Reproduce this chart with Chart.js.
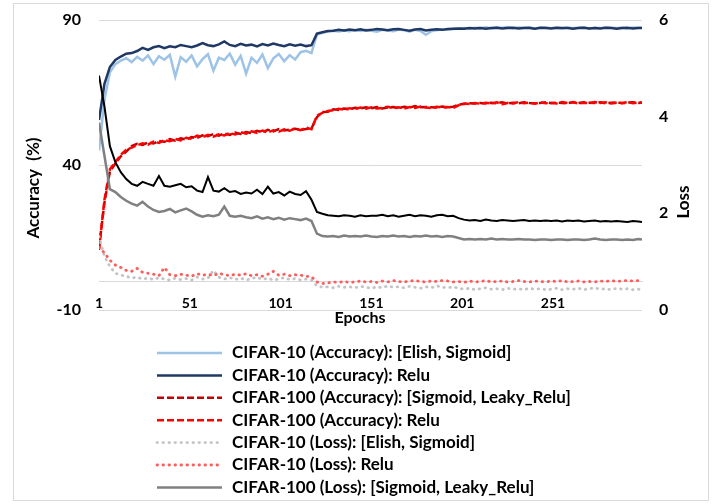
<!DOCTYPE html>
<html>
<head>
<meta charset="utf-8">
<title>CIFAR accuracy / loss</title>
<script src="https://cdn.jsdelivr.net/npm/chart.js@4"></script>
<style>
  body { margin: 0; background: #fff; }
</style>
</head>
<body>
<canvas id="chart" width="728" height="504"></canvas>
<script>
// epochs (every 3rd epoch, plus the last one)
var epochs = [1, 4, 7, 10, 13, 16, 19, 22, 25, 28,
  31, 34, 37, 40, 43, 46, 49, 52, 55, 58,
  61, 64, 67, 70, 73, 76, 79, 82, 85, 88,
  91, 94, 97, 100, 103, 106, 109, 112, 115, 118,
  121, 124, 127, 130, 133, 136, 139, 142, 145, 148,
  151, 154, 157, 160, 163, 166, 169, 172, 175, 178,
  181, 184, 187, 190, 193, 196, 199, 202, 205, 208,
  211, 214, 217, 220, 223, 226, 229, 232, 235, 238,
  241, 244, 247, 250, 253, 256, 259, 262, 265, 268,
  271, 274, 277, 280, 283, 286, 289, 292, 295, 298,
  300];

// accuracy (%)
var c10AccElish = [45.0, 62.5, 72.0, 74.8, 76.0, 76.8, 75.5, 77.3, 76.0, 77.8,
  74.8, 77.5, 76.3, 78.0, 70.5, 77.2, 75.6, 77.8, 74.0, 76.5,
  78.2, 72.5, 77.0, 76.2, 78.4, 74.6, 77.6, 71.5, 77.0, 75.2,
  78.1, 73.4, 76.8, 78.3, 75.8, 77.9, 76.4, 78.9, 79.4, 78.6,
  85.0, 85.6, 86.0, 86.3, 86.0, 86.4, 86.1, 86.5, 86.2, 86.6,
  86.3, 86.0, 86.6, 86.4, 86.1, 86.7, 86.5, 86.0, 86.6, 86.2,
  84.9, 86.1, 86.5, 86.8, 86.6, 86.9, 87.0, 87.2, 87.0, 87.3,
  87.2, 87.5, 87.1, 87.4, 87.3, 87.6, 87.2, 87.4, 87.3, 87.5,
  87.1, 87.3, 87.4, 87.2, 87.3, 87.1, 87.4, 87.2, 87.3, 87.4,
  87.1, 87.3, 87.2, 87.4, 87.3, 87.2, 87.3, 87.1, 87.4, 87.3,
  87.3];
var c10AccRelu = [55.5, 68.0, 73.8, 76.2, 77.4, 78.4, 78.6, 79.3, 80.4, 79.7,
  80.6, 81.0, 80.3, 80.9, 80.6, 81.4, 81.0, 80.6, 81.2, 82.0,
  81.3, 81.0, 81.6, 82.6, 81.4, 81.0, 81.8, 81.2, 81.5, 80.9,
  81.7, 81.2, 81.9, 81.4, 81.0, 81.6, 81.1, 81.5, 81.0, 81.3,
  85.3, 85.8, 86.2, 86.3, 86.6, 86.4, 86.7, 86.5, 86.8, 86.4,
  86.6, 86.9, 86.7, 86.5, 86.8, 86.9, 86.6, 86.3, 86.7, 86.9,
  86.4, 86.6, 86.8, 86.6, 86.9, 87.0, 87.1, 87.0, 87.2, 87.1,
  87.2, 87.0, 87.2, 87.3, 87.1, 87.2, 87.3, 87.1, 87.2, 87.2,
  87.0, 87.3, 87.2, 87.1, 87.3, 87.2, 87.2, 87.0, 87.2, 87.3,
  87.1, 87.2, 87.1, 87.3, 87.2, 87.0, 87.2, 87.3, 87.1, 87.2,
  87.2];
var c100AccSig = [11.5, 27.0, 37.8, 40.5, 43.0, 44.6, 46.5, 47.3, 46.9, 47.8,
  47.4, 48.3, 48.0, 48.9, 48.4, 49.2, 48.8, 49.6, 49.3, 50.2,
  49.9, 50.7, 50.1, 50.9, 50.4, 51.2, 50.7, 51.4, 51.0, 51.8,
  51.3, 52.1, 51.6, 52.4, 51.9, 52.2, 52.5, 52.1, 52.4, 52.6,
  56.5, 58.3, 58.4, 59.2, 59.0, 59.5, 59.2, 59.7, 59.5, 59.9,
  59.6, 60.0, 59.5, 59.8, 60.0, 59.6, 60.1, 59.8, 60.3, 59.9,
  60.0, 59.9, 59.8, 60.2, 59.9, 60.1, 60.8, 61.0, 61.3, 61.2,
  61.4, 61.2, 61.5, 61.3, 61.6, 61.2, 61.5, 61.3, 61.6, 61.4,
  61.3, 61.4, 61.6, 61.3, 61.5, 61.4, 61.3, 61.7, 61.4, 61.6,
  61.5, 61.4, 61.6, 61.3, 61.5, 61.6, 61.3, 61.5, 61.6, 61.4,
  61.6];
var c100AccRelu = [10.7, 28.0, 38.5, 41.0, 43.5, 45.2, 46.0, 46.8, 47.5, 47.0,
  48.1, 47.6, 48.6, 48.2, 49.0, 48.5, 49.4, 49.0, 50.1, 49.6,
  50.4, 49.8, 50.6, 50.2, 51.0, 50.5, 51.3, 50.8, 51.6, 51.1,
  51.9, 51.2, 52.0, 51.5, 52.3, 51.8, 52.6, 52.0, 52.9, 52.3,
  57.0, 58.0, 58.6, 58.9, 59.4, 59.1, 59.6, 59.3, 59.8, 59.4,
  59.9, 59.5, 59.7, 60.1, 59.6, 59.9, 59.4, 60.0, 59.7, 60.2,
  59.8, 59.6, 60.1, 59.8, 60.0, 59.7, 60.6, 61.2, 61.0, 61.4,
  61.1, 61.5, 61.2, 61.6, 61.0, 61.4, 61.2, 61.7, 61.3, 61.5,
  61.1, 61.6, 61.3, 61.5, 61.2, 61.7, 61.4, 61.6, 61.2, 61.5,
  61.3, 61.7, 61.4, 61.6, 61.2, 61.5, 61.4, 61.7, 61.3, 61.6,
  61.5];

// loss
var c10LossElish = [1.52, 1.11, 0.90, 0.76, 0.72, 0.70, 0.66, 0.68, 0.64, 0.66,
  0.63, 0.67, 0.64, 0.62, 0.66, 0.63, 0.65, 0.62, 0.68, 0.64,
  0.66, 0.82, 0.68, 0.64, 0.67, 0.63, 0.66, 0.62, 0.65, 0.68,
  0.63, 0.66, 0.62, 0.64, 0.67, 0.63, 0.65, 0.62, 0.64, 0.62,
  0.50, 0.47, 0.48, 0.46, 0.49, 0.47, 0.48, 0.46, 0.49, 0.47,
  0.45, 0.48, 0.46, 0.50, 0.47, 0.48, 0.46, 0.49, 0.47, 0.45,
  0.48, 0.46, 0.50, 0.47, 0.46, 0.48, 0.45, 0.43, 0.45, 0.42,
  0.44, 0.46, 0.43, 0.44, 0.42, 0.45, 0.43, 0.44, 0.42, 0.45,
  0.43, 0.44, 0.42, 0.43, 0.45, 0.42, 0.44, 0.43, 0.45, 0.42,
  0.44, 0.46, 0.43, 0.44, 0.42, 0.45, 0.43, 0.44, 0.42, 0.43,
  0.41];
var c10LossRelu = [1.30, 1.18, 1.03, 0.93, 0.88, 0.82, 0.80, 0.86, 0.78, 0.76,
  0.74, 0.71, 0.88, 0.73, 0.71, 0.74, 0.72, 0.70, 0.75, 0.72,
  0.74, 0.71, 0.76, 0.73, 0.71, 0.74, 0.72, 0.75, 0.71, 0.73,
  0.70, 0.74, 0.80, 0.72, 0.74, 0.71, 0.73, 0.72, 0.70, 0.69,
  0.58, 0.55, 0.56, 0.58, 0.57, 0.59, 0.57, 0.58, 0.60, 0.58,
  0.59, 0.57, 0.60, 0.58, 0.61, 0.59, 0.58, 0.60, 0.61, 0.59,
  0.58, 0.60, 0.59, 0.61, 0.60, 0.58, 0.59, 0.57, 0.60, 0.58,
  0.59, 0.61, 0.58, 0.59, 0.60, 0.58, 0.59, 0.61, 0.59, 0.58,
  0.60, 0.59, 0.58, 0.60, 0.59, 0.61, 0.58, 0.59, 0.60, 0.58,
  0.59, 0.58, 0.60, 0.59, 0.61, 0.59, 0.60, 0.61, 0.60, 0.61,
  0.60];
var c100LossSig = [3.88, 3.19, 2.50, 2.44, 2.34, 2.26, 2.20, 2.16, 2.24, 2.14,
  2.07, 2.03, 2.05, 2.09, 2.02, 2.06, 2.10, 2.04, 1.97, 1.93,
  1.96, 1.94, 1.97, 2.14, 1.95, 1.93, 1.95, 1.92, 1.90, 1.94,
  1.89, 1.92, 1.88, 1.91, 1.87, 1.90, 1.88, 1.86, 1.89, 1.84,
  1.58, 1.53, 1.52, 1.53, 1.51, 1.54, 1.52, 1.53, 1.52, 1.54,
  1.52, 1.51, 1.53, 1.52, 1.54, 1.52, 1.53, 1.51, 1.53, 1.52,
  1.54, 1.52, 1.53, 1.51, 1.53, 1.52, 1.49, 1.46, 1.47, 1.46,
  1.47, 1.46, 1.48, 1.46, 1.47, 1.46, 1.46, 1.47, 1.46, 1.46,
  1.45, 1.46, 1.46, 1.45, 1.46, 1.46, 1.45, 1.46, 1.46, 1.45,
  1.46, 1.48, 1.46, 1.45, 1.46, 1.46, 1.45, 1.46, 1.45, 1.47,
  1.46];
// this one is drawn but its legend entry is cut off in the original
var c100LossRelu = [4.85, 4.21, 3.39, 3.06, 2.85, 2.71, 2.61, 2.57, 2.65, 2.61,
  2.57, 2.77, 2.57, 2.55, 2.58, 2.61, 2.54, 2.56, 2.47, 2.44,
  2.75, 2.47, 2.45, 2.52, 2.44, 2.46, 2.40, 2.43, 2.41, 2.49,
  2.40, 2.55, 2.41, 2.44, 2.37, 2.45, 2.40, 2.38, 2.46, 2.28,
  2.03, 1.99, 1.96, 1.95, 1.94, 1.96, 1.95, 1.93, 1.96, 1.94,
  1.95, 1.95, 1.97, 1.94, 1.96, 1.93, 1.95, 1.97, 1.94, 1.96,
  1.95, 1.93, 1.96, 1.97, 1.94, 1.95, 1.90, 1.87, 1.85, 1.86,
  1.84, 1.87, 1.85, 1.84, 1.86, 1.85, 1.84, 1.85, 1.86, 1.84,
  1.85, 1.84, 1.85, 1.84, 1.85, 1.83, 1.85, 1.84, 1.85, 1.83,
  1.84, 1.85, 1.83, 1.84, 1.83, 1.84, 1.83, 1.82, 1.84, 1.83,
  1.82];

// axis ticks
var accTicks = [-10, 40, 90];
var lossTicks = [0, 2, 4, 6];
var epochTicks = [1, 51, 101, 151, 201, 251];

var series = [
  { label: 'CIFAR-10 (Accuracy): [Elish, Sigmoid]', values: c10AccElish, color: '#9dc3e6', dash: [], cap: 'butt', width: 2.5, axis: 'y' },
  { label: 'CIFAR-10 (Accuracy): Relu', values: c10AccRelu, color: '#203864', dash: [], cap: 'butt', width: 2.5, axis: 'y' },
  { label: 'CIFAR-100 (Accuracy): [Sigmoid, Leaky_Relu]', values: c100AccSig, color: '#c00000', dash: [7, 3], cap: 'butt', width: 2.5, axis: 'y' },
  { label: 'CIFAR-100 (Accuracy): Relu', values: c100AccRelu, color: '#ff0000', dash: [7, 3], cap: 'butt', width: 2.5, axis: 'y' },
  { label: 'CIFAR-10 (Loss): [Elish, Sigmoid]', values: c10LossElish, color: '#c3c3c3', dash: [0.5, 5.5], cap: 'round', width: 2.8, axis: 'y2' },
  { label: 'CIFAR-10 (Loss): Relu', values: c10LossRelu, color: '#ff5b5b', dash: [0.5, 5.5], cap: 'round', width: 2.8, axis: 'y2' },
  { label: 'CIFAR-100 (Loss): [Sigmoid, Leaky_Relu]', values: c100LossSig, color: '#808080', dash: [], cap: 'butt', width: 2.5, axis: 'y2' },
  { label: 'CIFAR-100 (Loss): Relu', values: c100LossRelu, color: '#000000', dash: [], cap: 'butt', width: 2, axis: 'y2', noLegend: true }
];

var datasets = series.map(function (s, i) {
  return {
    label: s.label,
    data: epochs.map(function (e, j) { return { x: e, y: s.values[j] }; }),
    borderColor: s.color,
    borderWidth: s.width,
    borderDash: s.dash,
    borderCapStyle: s.cap,
    yAxisID: s.axis,
    order: series.length - i,   // later series on top, like the original
    pointRadius: 0,
    tension: 0,
    fill: false
  };
});

// frame, axis titles and the single-column legend under the plot
var decor = {
  id: 'decor',
  afterDraw: function (chart) {
    var ctx = chart.ctx;
    ctx.save();
    ctx.strokeStyle = '#d9d9d9';
    ctx.lineWidth = 1;
    ctx.strokeRect(13.5, 3.5, 695, 497);

    ctx.fillStyle = '#000';
    ctx.textAlign = 'center';
    ctx.textBaseline = 'middle';
    ctx.font = 'bold 16px Lato';
    ctx.fillText('Epochs', 360, 318);

    ctx.font = 'bold 17px Lato';
    ctx.save();
    ctx.translate(34, 188);
    ctx.rotate(-Math.PI / 2);
    ctx.fillText('Accuracy  (%)', 0, 0);
    ctx.restore();

    ctx.save();
    ctx.translate(684, 202);
    ctx.rotate(-Math.PI / 2);
    ctx.fillText('Loss', 0, 0);
    ctx.restore();

    // legend
    ctx.textAlign = 'left';
    ctx.font = 'bold 17px Lato';
    var row = 0;
    chart.data.datasets.forEach(function (ds, i) {
      if (series[i].noLegend) return;
      var y = 353 + row * 22.4;
      ctx.strokeStyle = ds.borderColor;
      ctx.lineWidth = ds.borderWidth;
      ctx.lineCap = ds.borderCapStyle;
      ctx.setLineDash(ds.borderDash);
      ctx.beginPath();
      ctx.moveTo(157, y);
      ctx.lineTo(222, y);
      ctx.stroke();
      ctx.fillText(ds.label, 232, y);
      row++;
    });
    ctx.restore();
  }
};

Chart.defaults.font.family = 'Lato';
Chart.defaults.color = '#000';

new Chart(document.getElementById('chart'), {
  type: 'line',
  data: { datasets: datasets },
  plugins: [decor],
  options: {
    responsive: false,
    animation: false,
    events: [],
    layout: { padding: { top: 20, left: 0, right: 0, bottom: 194 } },
    scales: {
      x: {
        type: 'linear',
        position: { y: 0 },   // category axis crosses at 0 % like the original
        min: 1,
        max: 300,
        grid: { display: false, drawTicks: false },
        border: { display: true, color: '#d9d9d9', width: 1 },
        ticks: { padding: 14, maxRotation: 0, autoSkip: false, font: { size: 14, weight: 'bold' } },
        afterBuildTicks: function (axis) {
          axis.ticks = epochTicks.map(function (v) { return { value: v }; });
        }
      },
      y: {
        position: 'left',
        min: -10,
        max: 90,
        grid: { color: '#d9d9d9', lineWidth: 1, drawTicks: false },
        border: { display: false },
        ticks: { padding: 18, font: { size: 16, weight: 'bold' } },
        afterBuildTicks: function (axis) {
          axis.ticks = accTicks.map(function (v) { return { value: v }; });
        },
        afterFit: function (axis) { axis.width = 99; axis.paddingTop = 0; axis.paddingBottom = 0; }
      },
      y2: {
        position: 'right',
        min: 0,
        max: 6,
        grid: { display: false, drawTicks: false },
        border: { display: false },
        ticks: { padding: 17, font: { size: 16, weight: 'bold' } },
        afterBuildTicks: function (axis) {
          axis.ticks = lossTicks.map(function (v) { return { value: v }; });
        },
        afterFit: function (axis) { axis.width = 86; axis.paddingTop = 0; axis.paddingBottom = 0; }
      }
    },
    plugins: {
      tooltip: { enabled: false },
      legend: { display: false }
    }
  }
});
</script>
</body>
</html>
